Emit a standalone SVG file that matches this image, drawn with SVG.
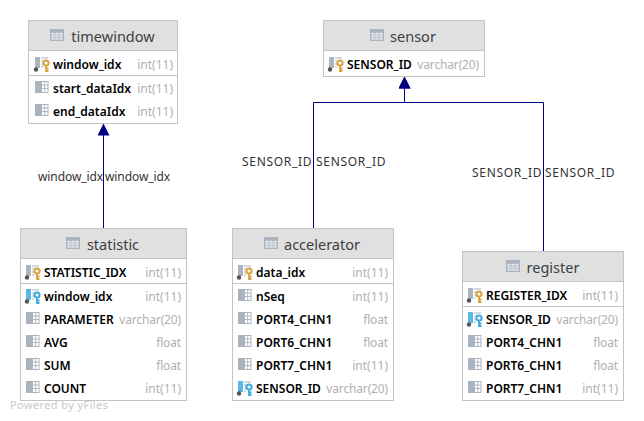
<svg xmlns="http://www.w3.org/2000/svg" width="644" height="421" viewBox="0 0 644 421">
<style>
text{font-family:"Noto Sans","Open Sans","Liberation Sans",sans-serif}
.box{fill:#fff;stroke:#c4c4c4;stroke-width:1}
.hd{fill:#e0e0e0}
.sep{stroke:#c4c4c4;stroke-width:1}
.title{font-size:14.5px;fill:#3c3f41;text-anchor:middle}
.col{font-size:12px;font-weight:600;fill:#000}
.typ{font-size:12px;fill:#b0b0b0;text-anchor:end}
.vc{letter-spacing:-.15px}
.lbl{font-size:12px;fill:#333}
.w{letter-spacing:-.08px}
.s{letter-spacing:.7px}
.edge{fill:none;stroke:#000080;stroke-width:1}
.wm{font-size:11px;fill:#c9c9c9;letter-spacing:.4px}
</style>
<defs>
<marker id="arr" markerUnits="userSpaceOnUse" markerWidth="12" markerHeight="12" refX="11.5" refY="6" orient="auto"><path d="M0 0L12 6L0 12Z" fill="#000080"/></marker>
<g id="tbl"><rect x="0" y="0" width="14" height="12" fill="#a9b4bf"/><path d="M1 3.5H13V11H1ZM5 3.5V11M9 3.5V11M1 6H13M1 8.5H13" fill="#e6e9ec" stroke="#a9b4bf" stroke-width=".7"/></g>
<g id="col"><rect x="0" y="0" width="6" height="12" fill="#a9b4bf"/><rect x="6.5" y="0.5" width="6.5" height="11" fill="#fff" stroke="#a9b4bf"/><path d="M6.5 4H13M6.5 7.5H13M9.7 1V11" stroke="#a9b4bf" stroke-width=".9"/></g>
<g id="pk"><rect x="1" y="0" width="5" height="11" fill="#a9b4bf"/><path d="M7 1H14M7 4H9M7 7H9M7 10H9" stroke="#a9b4bf" stroke-width="1.2"/><circle cx="2" cy="12.5" r="2.2" fill="#555"/><circle cx="12" cy="6" r="2.6" fill="#fff" stroke="#d9a23c" stroke-width="2"/><path d="M12 8.5V15M12 11.5H14.5M12 14H14.5" stroke="#d9a23c" stroke-width="1.8" fill="none"/></g>
<g id="fk"><rect x="1" y="0" width="5" height="11" fill="#5db5e6"/><path d="M7 1H14M7 4H9M7 7H9M7 10H9" stroke="#a9b4bf" stroke-width="1.2"/><circle cx="2" cy="12.5" r="2.2" fill="#555"/><circle cx="12" cy="6" r="2.6" fill="#fff" stroke="#3fa9dd" stroke-width="2"/><path d="M12 8.5V15M12 11.5H14.5M12 14H14.5" stroke="#3fa9dd" stroke-width="1.8" fill="none"/></g>
</defs>
<rect width="644" height="421" fill="#fff"/>
<g id="connectors">
<path class="edge" d="M103.5 228V124" marker-end="url(#arr)"/>
<path class="edge" d="M313.5 228V102.5H404.5V77" marker-end="url(#arr)"/>
<path class="edge" d="M543.5 251V102.5H404.5V77" marker-end="url(#arr)"/>
<text class="lbl w" x="38" y="181">window_idx</text>
<text class="lbl w" x="105" y="181">window_idx</text>
<text class="lbl s" x="242" y="166">SENSOR_ID</text>
<text class="lbl s" x="316" y="166">SENSOR_ID</text>
<text class="lbl s" x="472" y="177">SENSOR_ID</text>
<text class="lbl s" x="545" y="177">SENSOR_ID</text>
</g>
<g id="timewindow">
<rect class="box" x="28.5" y="20.5" width="149" height="103"/><rect class="hd" x="29" y="21" width="148" height="29"/>
<line class="sep" x1="29" x2="177" y1="50.5" y2="50.5"/><line class="sep" x1="29" x2="177" y1="75.5" y2="75.5"/>
<use href="#tbl" x="50" y="29"/><text class="title" x="113" y="42">timewindow</text>
<use href="#pk" x="34" y="57"/><text class="col" x="53" y="69">window_idx</text><text class="typ" x="173" y="69">int(11)</text>
<use href="#col" x="35" y="81"/><text class="col" x="53" y="93">start_dataIdx</text><text class="typ" x="173" y="93">int(11)</text>
<use href="#col" x="35" y="104"/><text class="col" x="53" y="116">end_dataIdx</text><text class="typ" x="173" y="116">int(11)</text>
</g>
<g id="sensor">
<rect class="box" x="323.5" y="20.5" width="161" height="56"/><rect class="hd" x="324" y="21" width="160" height="29"/>
<line class="sep" x1="324" x2="484" y1="50.5" y2="50.5"/>
<use href="#tbl" x="370" y="29"/><text class="title" x="413" y="42">sensor</text>
<use href="#pk" x="328" y="57"/><text class="col" x="347" y="69">SENSOR_ID</text><text class="typ vc" x="479" y="69">varchar(20)</text>
</g>
<g id="statistic">
<rect class="box" x="20.5" y="228.5" width="166" height="172"/><rect class="hd" x="21" y="229" width="165" height="29"/>
<line class="sep" x1="21" x2="186" y1="258.5" y2="258.5"/><line class="sep" x1="21" x2="186" y1="283.5" y2="283.5"/>
<use href="#tbl" x="66" y="237"/><text class="title" x="113" y="250">statistic</text>
<use href="#pk" x="25" y="265"/><text class="col" x="44" y="277">STATISTIC_IDX</text><text class="typ" x="181" y="277">int(11)</text>
<use href="#fk" x="25" y="289"/><text class="col" x="44" y="301">window_idx</text><text class="typ" x="181" y="301">int(11)</text>
<use href="#col" x="26" y="312"/><text class="col" x="44" y="324">PARAMETER</text><text class="typ vc" x="181" y="324">varchar(20)</text>
<use href="#col" x="26" y="335"/><text class="col" x="44" y="347">AVG</text><text class="typ vc" x="181" y="347">float</text>
<use href="#col" x="26" y="358"/><text class="col" x="44" y="370">SUM</text><text class="typ vc" x="181" y="370">float</text>
<use href="#col" x="26" y="381"/><text class="col" x="44" y="393">COUNT</text><text class="typ" x="181" y="393">int(11)</text>
</g>
<g id="accelerator">
<rect class="box" x="232.5" y="228.5" width="161" height="172"/><rect class="hd" x="233" y="229" width="160" height="29"/>
<line class="sep" x1="233" x2="393" y1="258.5" y2="258.5"/><line class="sep" x1="233" x2="393" y1="283.5" y2="283.5"/>
<use href="#tbl" x="264" y="237"/><text class="title" x="322" y="250">accelerator</text>
<use href="#pk" x="237" y="265"/><text class="col" x="256" y="277">data_idx</text><text class="typ" x="388" y="277">int(11)</text>
<use href="#col" x="238" y="289"/><text class="col" x="256" y="301">nSeq</text><text class="typ" x="388" y="301">int(11)</text>
<use href="#col" x="238" y="312"/><text class="col" x="256" y="324">PORT4_CHN1</text><text class="typ vc" x="388" y="324">float</text>
<use href="#col" x="238" y="335"/><text class="col" x="256" y="347">PORT6_CHN1</text><text class="typ vc" x="388" y="347">float</text>
<use href="#col" x="238" y="358"/><text class="col" x="256" y="370">PORT7_CHN1</text><text class="typ" x="388" y="370">int(11)</text>
<use href="#fk" x="237" y="381"/><text class="col" x="256" y="393">SENSOR_ID</text><text class="typ vc" x="388" y="393">varchar(20)</text>
</g>
<g id="register">
<rect class="box" x="462.5" y="251.5" width="161" height="149"/><rect class="hd" x="463" y="252" width="160" height="29"/>
<line class="sep" x1="463" x2="623" y1="281.5" y2="281.5"/><line class="sep" x1="463" x2="623" y1="306.5" y2="306.5"/>
<use href="#tbl" x="506" y="260"/><text class="title" x="553" y="273">register</text>
<use href="#pk" x="467" y="288"/><text class="col" x="486" y="300">REGISTER_IDX</text><text class="typ" x="618" y="300">int(11)</text>
<use href="#fk" x="467" y="312"/><text class="col" x="486" y="324">SENSOR_ID</text><text class="typ vc" x="618" y="324">varchar(20)</text>
<use href="#col" x="468" y="335"/><text class="col" x="486" y="347">PORT4_CHN1</text><text class="typ vc" x="618" y="347">float</text>
<use href="#col" x="468" y="358"/><text class="col" x="486" y="370">PORT6_CHN1</text><text class="typ vc" x="618" y="370">float</text>
<use href="#col" x="468" y="381"/><text class="col" x="486" y="393">PORT7_CHN1</text><text class="typ" x="618" y="393">int(11)</text>
</g>
<text class="wm" x="10" y="409">Powered by yFiles</text>
</svg>
